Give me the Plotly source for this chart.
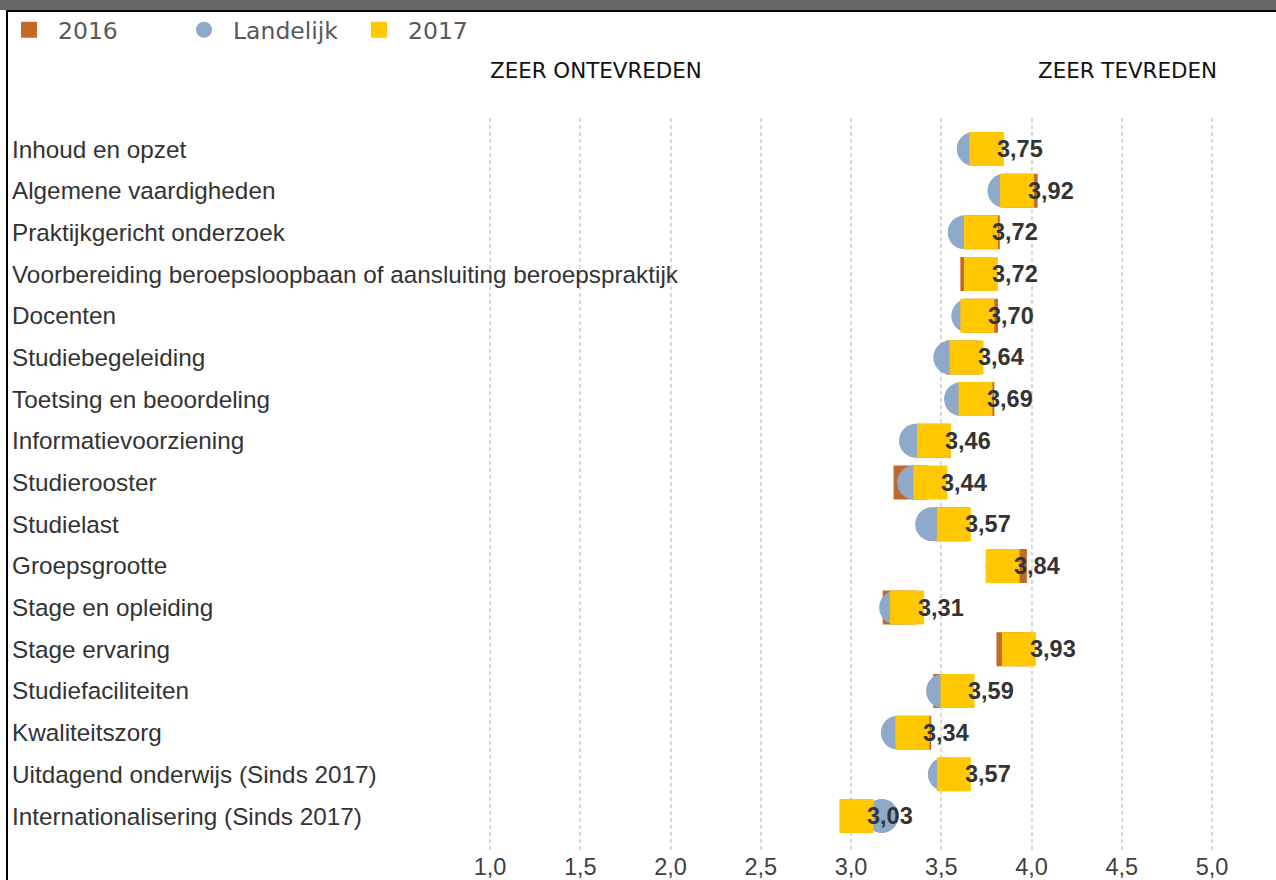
import plotly.graph_objects as go

categories = [
    "Inhoud en opzet",
    "Algemene vaardigheden",
    "Praktijkgericht onderzoek",
    "Voorbereiding beroepsloopbaan of aansluiting beroepspraktijk",
    "Docenten",
    "Studiebegeleiding",
    "Toetsing en beoordeling",
    "Informatievoorziening",
    "Studierooster",
    "Studielast",
    "Groepsgrootte",
    "Stage en opleiding",
    "Stage ervaring",
    "Studiefaciliteiten",
    "Kwaliteitszorg",
    "Uitdagend onderwijs (Sinds 2017)",
    "Internationalisering (Sinds 2017)",
]
v2016 = [3.75, 3.94, 3.73, 3.70, 3.72, 3.62, 3.70, 3.46, 3.33, 3.56, 3.88, 3.27, 3.90, 3.55, 3.35, None, None]
landelijk = [3.68, 3.85, 3.63, 3.72, 3.65, 3.55, 3.61, 3.36, 3.35, 3.45, 3.84, 3.25, 3.93, 3.51, 3.26, 3.52, 3.17]
v2017 = [3.75, 3.92, 3.72, 3.72, 3.70, 3.64, 3.69, 3.46, 3.44, 3.57, 3.84, 3.31, 3.93, 3.59, 3.34, 3.57, 3.03]
tick_vals = [1.0, 1.5, 2.0, 2.5, 3.0, 3.5, 4.0, 4.5, 5.0]
tick_text = ["1,0", "1,5", "2,0", "2,5", "3,0", "3,5", "4,0", "4,5", "5,0"]
header_left = "ZEER ONTEVREDEN"
header_right = "ZEER TEVREDEN"

W, H = 1276, 880
ML, MR, MT, MB = 8, 0, 118, 30
PW, PH = W - ML - MR, H - MT - MB


def px(x):
    return (x - ML) / PW


def py(y):
    return (H - MB - y) / PH


C2016 = "#C0692B"
CLAND = "#8EA9CA"
C2017 = "#FFC800"
SANS = "Liberation Sans, Arial, sans-serif"
VERD = "DejaVu Sans, Verdana, sans-serif"

fig = go.Figure()
fig.add_trace(go.Scatter(
    x=v2016, y=categories, mode="markers", name="2016",
    marker=dict(symbol="square", size=34, color=C2016, line=dict(width=0)),
))
fig.add_trace(go.Scatter(
    x=landelijk, y=categories, mode="markers", name="Landelijk",
    marker=dict(symbol="circle", size=34, color=CLAND, line=dict(width=0)),
))
fig.add_trace(go.Scatter(
    x=v2017, y=categories, mode="markers", name="2017",
    marker=dict(symbol="square", size=34, color=C2017, line=dict(width=0)),
))

annotations = []
for c in categories:
    annotations.append(dict(
        x=px(10), y=c, xref="paper", yref="y", text=c,
        showarrow=False, xanchor="left", yanchor="middle",
        font=dict(family=SANS, size=24.3, color="#333333"),
    ))
for c, v in zip(categories, v2017):
    annotations.append(dict(
        x=v, y=c, xref="x", yref="y", text=("%.2f" % v).replace(".", ","),
        showarrow=False, xanchor="left", yanchor="middle", xshift=9,
        font=dict(family=SANS, size=23.5, color="#333333", weight="bold"),
    ))
annotations.append(dict(
    x=1.0, y=py(71), xref="x", yref="paper", text=header_left, showarrow=False,
    xanchor="left", yanchor="middle", xshift=-2,
    font=dict(family=VERD, size=21.4, color="#111111"),
))
annotations.append(dict(
    x=5.0, y=py(71), xref="x", yref="paper", text=header_right, showarrow=False,
    xanchor="right", yanchor="middle", xshift=7,
    font=dict(family=VERD, size=21.4, color="#111111"),
))

shapes = [
    dict(type="rect", xref="paper", yref="paper", x0=px(0), x1=px(W), y0=py(0), y1=py(10),
         fillcolor="#666666", line=dict(width=0), layer="above"),
    dict(type="line", xref="paper", yref="paper", x0=px(6), x1=px(W), y0=py(11), y1=py(11),
         line=dict(color="#000000", width=2), layer="above"),
    dict(type="line", xref="paper", yref="paper", x0=px(7), x1=px(7), y0=py(11), y1=py(H),
         line=dict(color="#000000", width=2), layer="above"),
]

scale = 180.5
x_lo = 1.0 - (490 - ML) / scale
x_hi = 5.0 + (W - MR - 1212) / scale
row = 41.69
y_top = -(149 - MT) / row
y_bot = 16 + (H - MB - 816) / row

fig.update_layout(
    width=W, height=H,
    margin=dict(l=ML, r=MR, t=MT, b=MB),
    paper_bgcolor="white", plot_bgcolor="white",
    showlegend=True,
    legend=dict(orientation="h", x=px(0), y=py(8), xanchor="left", yanchor="top",
                font=dict(family=VERD, size=23.5, color="#595959"),
                itemwidth=48,
                entrywidth=112, entrywidthmode="pixels", bgcolor="rgba(0,0,0,0)"),
    xaxis=dict(range=[x_lo, x_hi], tickvals=tick_vals, ticktext=tick_text,
               showgrid=True, gridcolor="#D9D9D9", gridwidth=1.5, griddash="4px,3px",
               zeroline=False, showline=False, ticks="",
               tickfont=dict(family=SANS, size=23.5, color="#404040")),
    yaxis=dict(type="category", categoryorder="array", categoryarray=categories,
               range=[y_bot, y_top], showgrid=False, zeroline=False, showline=False,
               ticks="", showticklabels=False),
    annotations=annotations, shapes=shapes,
)

fig.write_html("out.html", config={"displayModeBar": False},
               post_script="document.body.style.margin='0';document.body.style.overflow='hidden';")
